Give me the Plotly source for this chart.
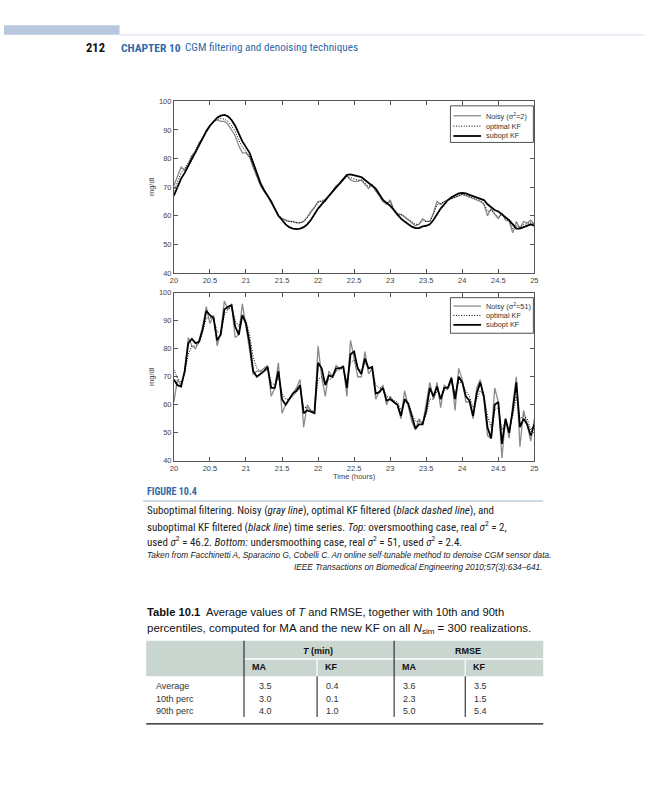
import plotly.graph_objects as go

W, H = 648, 800

# ---------------- data ----------------
time_h = [round(20 + 0.05 * i, 2) for i in range(101)]

top_noisy = [70.5, 74, 77, 76, 78, 81, 82, 85.5, 87, 90, 91.5, 93, 93.5, 93, 93, 92, 90, 88, 84.5, 82,
             82, 80.5, 77, 74, 70.5, 68.5, 67, 64.5, 62, 60, 59, 58.5, 58, 58, 57.5, 57.5, 58, 59.5, 61.5, 63,
             65, 65, 65, 67, 68.5, 70.5, 71, 72.5, 74, 72.5, 72, 72, 72.5, 71, 69.5, 71, 68.5, 67, 65, 64,
             65.5, 62, 60, 60.5, 59.5, 58.5, 57.5, 56.5, 57, 59, 58, 58, 61, 65, 64, 65, 65.5, 66, 66.5, 67,
             67.5, 67, 66.5, 66, 65.5, 65, 64, 60, 62.5, 60.5, 59, 61, 58.5, 58, 54, 58, 55.5, 58, 57.5, 58.5, 57]
top_optimal = [68.5, 72, 75, 76.5, 78.5, 81, 83, 85.5, 87.5, 90, 91.5, 93, 93.7, 94, 93.8, 93, 91.5, 89.5, 86.5, 84,
               82.5, 80.5, 77.5, 74, 71, 68.8, 67, 64.8, 62.3, 60.3, 59, 58.3, 58, 57.8, 57.5, 57.5, 58, 59.3, 61, 62.8,
               64.5, 65.3, 65.8, 67, 68.5, 70.3, 71.3, 72.5, 73.8, 73.3, 72.8, 72.5, 72.5, 71.5, 70.3, 70.5, 69, 67.3, 65.5, 64.5,
               64.8, 62.5, 60.8, 60.5, 59.8, 58.8, 57.8, 57, 57, 58.3, 58, 58, 60.5, 63.8, 64.3, 65, 65.5, 66, 66.5, 67,
               67.5, 67.2, 66.8, 66.3, 65.8, 65.3, 64.3, 61.5, 62, 60.8, 59.5, 60.5, 58.8, 58.3, 55.5, 56.5, 56, 57, 57.2, 57.8, 57]
top_subopt = [67, 70, 73, 75, 77.5, 80, 82, 84.5, 87, 89.5, 91.5, 93, 94.3, 95, 95.3, 94.8, 93.5, 91.5, 88.5, 86,
              84, 82, 78.5, 75, 71.5, 69, 67, 65, 62.5, 60, 58.5, 57, 56, 55.5, 55.3, 55.5, 56, 57, 58.5, 60.5,
              62.5, 64, 65.5, 67, 68.5, 70, 71.5, 73, 74.3, 74.5, 74.2, 74, 73.5, 72.5, 71.5, 70.5, 69.5, 67.5, 65.5, 64.5,
              63.5, 62, 60.5, 59, 58, 57, 56.2, 55.7, 55.7, 56.3, 56.5, 57, 58.5, 60.5, 62.5, 64, 65.5, 66.5, 67.3, 67.8,
              68, 67.8, 67.3, 66.8, 66.3, 66, 65.5, 64, 63, 62, 61.5, 60.5, 59.5, 58.5, 57, 55.5, 55.5, 56, 56.5, 57, 56.5]

bot_noisy = [61, 69, 67, 72, 84, 81, 80, 83, 88, 95, 89, 92, 81, 86, 97, 94, 96, 84, 85, 96,
             88, 80, 71, 72, 72, 73, 74, 63, 66, 75, 57, 60, 62, 64, 66, 69, 52, 60, 58, 57,
             81, 70, 63, 72, 70, 74, 73, 74, 63, 83, 76, 70, 70, 79, 71, 73, 62, 65, 67, 60,
             63, 61, 60, 55, 65, 60, 54, 51, 55, 53, 60, 68, 62, 68, 59, 67, 66, 70, 58, 73,
             69, 61, 61, 55, 66, 69, 62, 49, 48, 66, 61, 41, 55, 48, 60, 70, 45, 58, 53, 47, 55]
bot_optimal = [72.5, 69.5, 68, 71, 78, 81, 81, 82, 86, 91, 91, 91, 86, 86, 92, 94, 95, 90, 88, 92,
               90, 85, 77, 73, 72, 72, 72.5, 68, 67, 70, 64, 62, 62, 63, 64.5, 66, 59, 59, 58, 57.5,
               69, 70, 67, 69, 69.5, 72, 72.5, 73, 68.5, 75, 76, 73.5, 72, 75, 73, 73, 67, 66, 66, 63,
               62.5, 61.5, 61, 58, 61, 60.5, 57, 54, 54, 53.5, 56.5, 62, 62, 65, 62.5, 65, 65.5, 68, 64, 68,
               68, 65, 63, 59, 62, 65, 63, 56, 52, 58, 59, 51, 54, 51, 56, 63, 55, 56, 55, 51, 53]
bot_subopt = [69, 67, 66.5, 72, 82, 83.5, 82, 82.5, 87, 93.5, 92, 91, 83, 85, 94, 95, 95.5, 88, 85, 92,
              89, 82, 72, 70, 71, 72, 73.5, 66, 66, 72, 62, 60, 62, 64, 65, 67, 57, 58, 57.5, 57,
              75, 73, 67, 70.5, 70, 73, 73, 73.5, 66, 78, 79, 73, 71, 76.5, 73, 73.5, 64, 64.5, 66, 61.5,
              62, 61, 60, 56, 62, 60.5, 56, 51.5, 53, 53, 58, 66, 63, 66.5, 62, 66, 66, 69.5, 62, 70,
              68, 63, 61.5, 56, 64, 68, 63, 52, 48, 60, 61, 46, 55, 50, 58, 68, 52, 55, 53, 49, 53]

x_ticks = [20, 20.5, 21, 21.5, 22, 22.5, 23, 23.5, 24, 24.5, 25]
x_ticktext = ["20", "20.5", "21", "21.5", "22", "22.5", "23", "23.5", "24", "24.5", "25"]
y_ticks = [40, 50, 60, 70, 80, 90, 100]

legend_top = ["Noisy (σ<sup>2</sup>=2)", "optimal KF", "subopt KF"]
legend_bot = ["Noisy (σ<sup>2</sup>=51)", "optimal KF", "subopt KF"]

row_labels = ["Average", "10th perc", "90th perc"]
ma_T = ["3.5", "3.0", "4.0"]
kf_T = ["0.4", "0.1", "1.0"]
ma_RMSE = ["3.6", "2.3", "5.0"]
kf_RMSE = ["3.5", "1.5", "5.4"]

# ---------------- helpers ----------------
def px(x):
    return x / W

def py(y):
    return 1 - y / H

NARROW = "Liberation Sans Narrow, Arial Narrow, Roboto Condensed, Liberation Sans, sans-serif"
SANS = "Liberation Sans, Arial, sans-serif"
BLUE = "#2f6aa6"
GRAY = "#8a8a8a"
DOT = "1px,1.6px"

fig = go.Figure()

style = [dict(color=GRAY, width=1.3, dash="solid"),
         dict(color="#000", width=1.0, dash=DOT),
         dict(color="#000", width=1.8, dash="solid")]

for ser, ls in zip([top_noisy, top_optimal, top_subopt], style):
    fig.add_trace(go.Scatter(x=time_h, y=ser, mode="lines", line=ls, xaxis="x", yaxis="y",
                             showlegend=False, hoverinfo="skip"))
for ser, ls in zip([bot_noisy, bot_optimal, bot_subopt], style):
    fig.add_trace(go.Scatter(x=time_h, y=ser, mode="lines", line=ls, xaxis="x2", yaxis="y2",
                             showlegend=False, hoverinfo="skip"))

ax_common = dict(showgrid=False, zeroline=False, showline=True, linecolor="#555", linewidth=0.8,
                 mirror="ticks", ticks="inside", ticklen=4, tickcolor="#555", tickwidth=0.8,
                 tickfont=dict(size=7.5, color="#444", family=SANS))
xdom = [px(172), px(537)]
fig.update_layout(
    width=W, height=H, margin=dict(l=0, r=0, t=0, b=0),
    paper_bgcolor="white", plot_bgcolor="white",
    xaxis=dict(domain=xdom, range=[20, 25], tickvals=x_ticks, ticktext=x_ticktext, anchor="y", **ax_common),
    yaxis=dict(domain=[py(272), py(98.5)], range=[40, 100], tickvals=y_ticks, anchor="x", **ax_common),
    xaxis2=dict(domain=xdom, range=[20, 25], tickvals=x_ticks, ticktext=x_ticktext, anchor="y2", **ax_common),
    yaxis2=dict(domain=[py(462), py(292)], range=[40, 100], tickvals=y_ticks, anchor="x2", **ax_common),
)

shapes = []
ann = []

def text(x, y, s, size, color="#222", family=SANS, xanchor="left", angle=0):
    ann.append(dict(x=px(x), y=py(y), xref="paper", yref="paper", text=s, showarrow=False,
                    xanchor=xanchor, yanchor="middle", textangle=angle,
                    font=dict(size=size, color=color, family=family)))

def line(x0, y0, x1, y1, color, width, dash="solid"):
    shapes.append(dict(type="line", xref="paper", yref="paper", x0=px(x0), y0=py(y0), x1=px(x1), y1=py(y1),
                       line=dict(color=color, width=width, dash=dash)))

def rect(x0, y0, x1, y1, fill):
    shapes.append(dict(type="rect", xref="paper", yref="paper", x0=px(x0), y0=py(y0), x1=px(x1), y1=py(y1),
                       fillcolor=fill, line=dict(color=fill, width=0), layer="below"))

# ---------- page header ----------
rect(0, 21.5, 117, 31, "#b9c8df")
line(117, 31.3, 648, 31.3, "#d3dceb", 1)
text(81, 44, "<b>212</b>", 12.5, "#111", NARROW)
text(116, 44, "<b>CHAPTER 10</b>", 11.5, BLUE, NARROW)
text(181, 44, "CGM filtering and denoising techniques", 11.2, BLUE, NARROW)

# ---------- axis titles ----------
text(150, 185, "mg/dl", 7.5, "#444", SANS, "center", -90)
text(150, 377, "mg/dl", 7.5, "#444", SANS, "center", -90)
text(355, 478, "Time (hours)", 7.5, "#444", SANS, "center")

# ---------- legends (drawn as boxes) ----------
def legend(y_box0, y_box1, ys, labels):
    shapes.append(dict(type="rect", xref="paper", yref="paper", x0=px(452), y0=py(y_box0), x1=px(536), y1=py(y_box1),
                       fillcolor="white", line=dict(color="#222", width=0.8), layer="above"))
    for (yy, lab, ls) in zip(ys, labels, style):
        line(455, yy, 483, yy, ls["color"], ls["width"], ls["dash"])
        text(486, yy, lab, 7.3, "#333", SANS)

legend(103, 140, [113, 123.5, 133.5], legend_top)
legend(297, 333, [305.5, 315, 324.5], legend_bot)

# ---------- figure caption ----------
text(143, 493, "<b>FIGURE 10.4</b>", 10, BLUE, NARROW)
line(141, 502.7, 546, 502.7, "#9fb4cc", 1)
cap = [
    "Suboptimal filtering. Noisy (<i>gray line</i>), optimal KF filtered (<i>black dashed line</i>), and",
    "suboptimal KF filtered (<i>black line</i>) time series. <i>Top:</i> oversmoothing case, real <i>σ</i><sup>2</sup> = 2,",
    "used <i>σ</i><sup>2</sup> = 46.2. <i>Bottom:</i> undersmoothing case, real <i>σ</i><sup>2</sup> = 51, used <i>σ</i><sup>2</sup> = 2.4.",
]
for yy, s in zip([512, 528, 543.5], cap):
    text(143, yy, s, 11, "#222", NARROW)
text(143, 557, "<i>Taken from Facchinetti A, Sparacino G, Cobelli C. An online self-tunable method to denoise CGM sensor data.</i>",
     8.3, "#222", SANS)
text(547, 569, "<i>IEEE Transactions on Biomedical Engineering 2010;57(3):634–641.</i>", 8.3, "#222", SANS, "right")

# ---------- table ----------
text(143, 615, "<b>Table 10.1</b>  Average values of <i>T</i> and RMSE, together with 10th and 90th", 11.2, "#111", SANS)
text(143, 632, "percentiles, computed for MA and the new KF on all <i>N</i><sub>sim</sub> = 300 realizations.", 11.5, "#111", SANS)

rect(144, 644, 546, 680, "#c9d6d0")
line(243, 662.5, 546, 662.5, "white", 1.5)
line(317, 662.5, 317, 680, "white", 1.2)
line(467, 662.5, 467, 680, "white", 1.2)
line(243, 644, 243, 721, "#111", 1)
line(395, 644, 395, 721, "#111", 1)
line(317, 680, 317, 721, "#111", 1)
line(467, 680, 467, 721, "#111", 1)
line(144, 728, 546, 728, "#111", 1.2)

text(318, 654, "<b><i>T</i> (min)</b>", 9, "#111", SANS, "center")
text(470, 654, "<b>RMSE</b>", 9, "#111", SANS, "center")
for xx, s in zip([249, 322.5, 401, 472.5], ["MA", "KF", "MA", "KF"]):
    text(xx, 671, f"<b>{s}</b>", 9, "#111", SANS)

for yy, lab, a, b, c, d in zip([690, 703, 715.5], row_labels, ma_T, kf_T, ma_RMSE, kf_RMSE):
    text(151.5, yy, lab, 9, "#333", SANS)
    text(256.5, yy, a, 9, "#333", SANS)
    text(324, yy, b, 9, "#333", SANS)
    text(401.5, yy, c, 9, "#333", SANS)
    text(474, yy, d, 9, "#333", SANS)

fig.update_layout(shapes=shapes, annotations=ann)

post = (
    "document.documentElement.style.margin='0';"
    "document.body.style.margin='0';"
    "document.body.style.overflow='hidden';"
    "document.documentElement.style.overflow='hidden';"
)
fig.write_html("out.html", config={"displayModeBar": False}, post_script=post)
